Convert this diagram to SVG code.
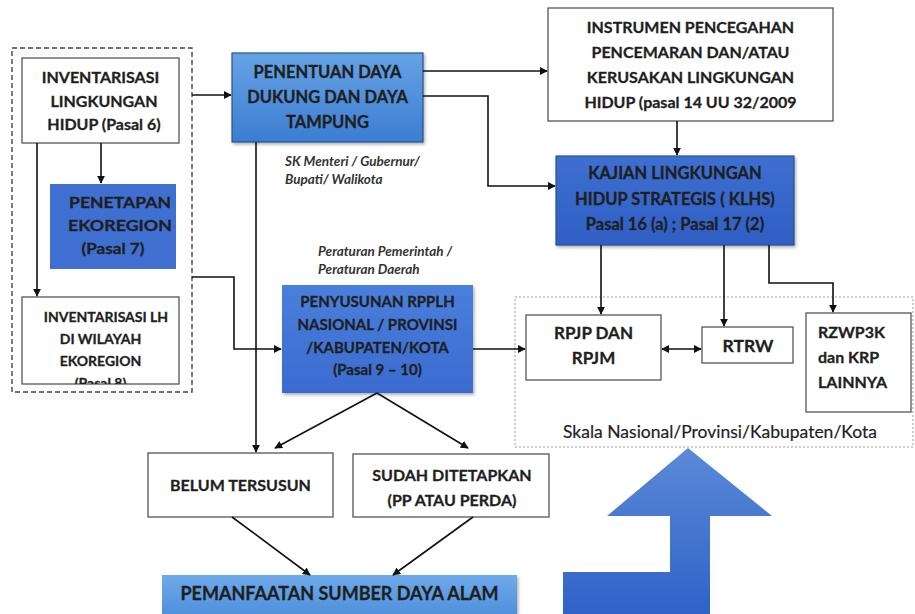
<svg xmlns="http://www.w3.org/2000/svg" width="915" height="614" viewBox="0 0 915 614">
  <defs>
    <style>
      .t { font-family: Lato, "Open Sans", "Liberation Sans", sans-serif; font-weight: bold; fill: #1f1f1f; stroke: #1f1f1f; stroke-width: 0.3; text-anchor: middle; }
      .l { text-anchor: start; }
      .note { font-family: Lato, "Open Sans", "Liberation Sans", sans-serif; font-weight: bold; font-style: italic; fill: #333; font-size: 13.5px; }
      .box { fill: #ffffff; stroke: #555; stroke-width: 1.3; }
      .blue { stroke: #2b4f8f; stroke-width: 1.2; }
      .wire { fill: none; stroke: #111; stroke-width: 1.6; }
    </style>
    <marker id="ah" viewBox="0 0 10 10" refX="9" refY="5" markerWidth="8" markerHeight="8" markerUnits="userSpaceOnUse" orient="auto-start-reverse">
      <path d="M0,0 L10,5 L0,10 z" fill="#111"/>
    </marker>
    <linearGradient id="gLight" x1="0" y1="0" x2="0" y2="1">
      <stop offset="0" stop-color="#66a3e6"/>
      <stop offset="1" stop-color="#3c7dd1"/>
    </linearGradient>
    <linearGradient id="gDark" x1="0" y1="0" x2="0" y2="1">
      <stop offset="0" stop-color="#3e6fd0"/>
      <stop offset="1" stop-color="#2f5fc4"/>
    </linearGradient>
    <linearGradient id="gMid" x1="0" y1="0" x2="0" y2="1">
      <stop offset="0" stop-color="#4a7fdc"/>
      <stop offset="1" stop-color="#3a6bcf"/>
    </linearGradient>
    <linearGradient id="gBottom" x1="0" y1="0" x2="0" y2="1">
      <stop offset="0" stop-color="#6eaaea"/>
      <stop offset="1" stop-color="#4b8ddb"/>
    </linearGradient>
    <linearGradient id="gUp" x1="0" y1="0" x2="0" y2="1">
      <stop offset="0" stop-color="#5b8ad6"/>
      <stop offset="1" stop-color="#2f62c8"/>
    </linearGradient>
    <filter id="shadow" x="-10%" y="-10%" width="125%" height="130%">
      <feDropShadow dx="1.5" dy="2" stdDeviation="1.5" flood-color="#000" flood-opacity="0.3"/>
    </filter>
    <clipPath id="clipLH">
      <rect x="22" y="297" width="157" height="87"/>
    </clipPath>
  </defs>

  <rect width="915" height="614" fill="#ffffff"/>

  <!-- grouping frames -->
  <rect id="frame-left" x="12" y="48" width="180" height="344" fill="none" stroke="#444" stroke-width="1.4" stroke-dasharray="5 3"/>
  <rect id="frame-scale" x="515" y="297" width="398" height="150" fill="none" stroke="#9a9a9a" stroke-width="1" stroke-dasharray="2 2"/>

  <g id="inventarisasi-lh">
    <rect class="box" x="22" y="58" width="157" height="85"/>
    <text class="t" font-size="16" x="100.5" y="83">INVENTARISASI</text>
    <text class="t" font-size="16" x="104" y="107">LINGKUNGAN</text>
    <text class="t" font-size="16" x="104" y="130">HIDUP (Pasal 6)</text>
  </g>

  <g id="penetapan-ekoregion">
    <rect x="50" y="184" width="126" height="85" fill="#3f6fd0"/>
    <text class="t" font-size="16" x="120" y="208" textLength="102" lengthAdjust="spacingAndGlyphs">PENETAPAN</text>
    <text class="t" font-size="16" x="120" y="231" textLength="104" lengthAdjust="spacingAndGlyphs">EKOREGION</text>
    <text class="t" font-size="16" x="113" y="254" textLength="63" lengthAdjust="spacingAndGlyphs">(Pasal 7)</text>
  </g>

  <g id="inventarisasi-ekoregion">
    <rect class="box" x="22" y="297" width="157" height="87"/>
    <g clip-path="url(#clipLH)">
      <text class="t" font-size="14" x="106" y="322">INVENTARISASI LH</text>
      <text class="t" font-size="14" x="100.5" y="344">DI WILAYAH</text>
      <text class="t" font-size="14" x="100.5" y="366">EKOREGION</text>
      <text class="t" font-size="14" x="100.5" y="388">(Pasal 8)</text>
    </g>
  </g>

  <g id="penentuan-daya">
    <rect class="blue" x="232" y="53" width="191" height="89" fill="url(#gLight)" filter="url(#shadow)"/>
    <text class="t" font-size="16.5" x="327.5" y="78">PENENTUAN DAYA</text>
    <text class="t" font-size="16.5" x="327.5" y="103">DUKUNG DAN DAYA</text>
    <text class="t" font-size="16.5" x="327.5" y="128">TAMPUNG</text>
  </g>

  <g id="instrumen">
    <rect class="box" x="548" y="8" width="285" height="113"/>
    <text class="t" font-size="16" x="690.5" y="33">INSTRUMEN PENCEGAHAN</text>
    <text class="t" font-size="16" x="690.5" y="58">PENCEMARAN DAN/ATAU</text>
    <text class="t" font-size="16" x="690.5" y="83">KERUSAKAN LINGKUNGAN</text>
    <text class="t" font-size="16" x="690.5" y="108">HIDUP (pasal 14 UU 32/2009</text>
  </g>

  <g id="klhs">
    <rect class="blue" x="556" y="156" width="238" height="89" fill="url(#gDark)" filter="url(#shadow)"/>
    <text class="t" font-size="16.5" x="675" y="179">KAJIAN LINGKUNGAN</text>
    <text class="t" font-size="16.5" x="675" y="205">HIDUP STRATEGIS ( KLHS)</text>
    <text class="t" font-size="16.5" x="675" y="230">Pasal 16 (a) ; Pasal 17 (2)</text>
  </g>

  <g id="notes">
    <text class="note" x="285" y="166">SK Menteri / Gubernur/</text>
    <text class="note" x="285" y="184">Bupati/ Walikota</text>
    <text class="note" x="318" y="256">Peraturan Pemerintah /</text>
    <text class="note" x="318" y="274">Peraturan Daerah</text>
  </g>

  <g id="penyusunan-rpplh">
    <rect x="282" y="285" width="191" height="108" fill="url(#gMid)" filter="url(#shadow)"/>
    <text class="t" font-size="15" x="377.5" y="307">PENYUSUNAN RPPLH</text>
    <text class="t" font-size="15" x="377.5" y="330">NASIONAL / PROVINSI</text>
    <text class="t" font-size="15" x="377.5" y="353">/KABUPATEN/KOTA</text>
    <text class="t" font-size="15" x="377.5" y="375">(Pasal 9 – 10)</text>
  </g>

  <g id="belum-tersusun">
    <rect class="box" x="148" y="453" width="185" height="64"/>
    <text class="t" font-size="16" x="240.5" y="491">BELUM TERSUSUN</text>
  </g>

  <g id="sudah-ditetapkan">
    <rect class="box" x="353" y="454" width="196" height="63"/>
    <text class="t" font-size="16" x="452" y="481">SUDAH DITETAPKAN</text>
    <text class="t" font-size="16" x="452" y="506">(PP ATAU PERDA)</text>
  </g>

  <g id="pemanfaatan-sda">
    <rect x="162" y="575" width="355" height="45" fill="url(#gBottom)" filter="url(#shadow)"/>
    <text class="t" font-size="18" x="339.5" y="600">PEMANFAATAN SUMBER DAYA ALAM</text>
  </g>

  <g id="rpjp-rpjm">
    <rect class="box" x="526" y="315" width="135" height="65"/>
    <text class="t" font-size="17" x="593.5" y="339">RPJP DAN</text>
    <text class="t" font-size="17" x="593.5" y="364">RPJM</text>
  </g>

  <g id="rtrw">
    <rect class="box" x="702" y="327" width="91" height="36"/>
    <text class="t" font-size="17.5" x="748" y="352">RTRW</text>
  </g>

  <g id="rzwp3k">
    <rect class="box" x="806" y="313" width="105" height="99"/>
    <text class="t l" font-size="16" x="818" y="338">RZWP3K</text>
    <text class="t l" font-size="16" x="818" y="363">dan KRP</text>
    <text class="t l" font-size="16" x="818" y="388">LAINNYA</text>
  </g>

  <text id="skala-label" font-family="Lato, 'Open Sans', 'Liberation Sans', sans-serif" font-size="17.5" fill="#1f1f1f" stroke="#1f1f1f" stroke-width="0.2" text-anchor="middle" x="720" y="438">Skala Nasional/Provinsi/Kabupaten/Kota</text>

  <!-- wide upward arrow into the regional-scale plans -->
  <polygon id="up-arrow" points="688,448 772,516 710,516 710,614 563,614 563,572 670,572 670,516 607,516" fill="url(#gUp)"/>

  <g id="connectors">
    <path class="wire" d="M101,143 V183" marker-end="url(#ah)"/>
    <path class="wire" d="M37,143 V296" marker-end="url(#ah)"/>
    <path class="wire" d="M192,95 H231" marker-end="url(#ah)"/>
    <path class="wire" d="M423,71 H547" marker-end="url(#ah)"/>
    <path class="wire" d="M423,96 H488 V186 H555" marker-end="url(#ah)"/>
    <path class="wire" d="M677,121 V155" marker-end="url(#ah)"/>
    <path class="wire" d="M256,142 V452" marker-end="url(#ah)"/>
    <path class="wire" d="M192,277 H234 V349 H281" marker-end="url(#ah)"/>
    <path class="wire" d="M473,349 H525" marker-end="url(#ah)"/>
    <path class="wire" d="M377,393 L275,448" marker-end="url(#ah)"/>
    <path class="wire" d="M377,393 L468,448" marker-end="url(#ah)"/>
    <path class="wire" d="M232,517 L310,575" marker-end="url(#ah)"/>
    <path class="wire" d="M473,517 L393,575" marker-end="url(#ah)"/>
    <path class="wire" d="M601,245 V314" marker-end="url(#ah)"/>
    <path class="wire" d="M724,245 V326" marker-end="url(#ah)"/>
    <path class="wire" d="M769,245 V283 H833 V312" marker-end="url(#ah)"/>
    <path class="wire" d="M662,349 H701" marker-start="url(#ah)" marker-end="url(#ah)"/>
  </g>
</svg>
